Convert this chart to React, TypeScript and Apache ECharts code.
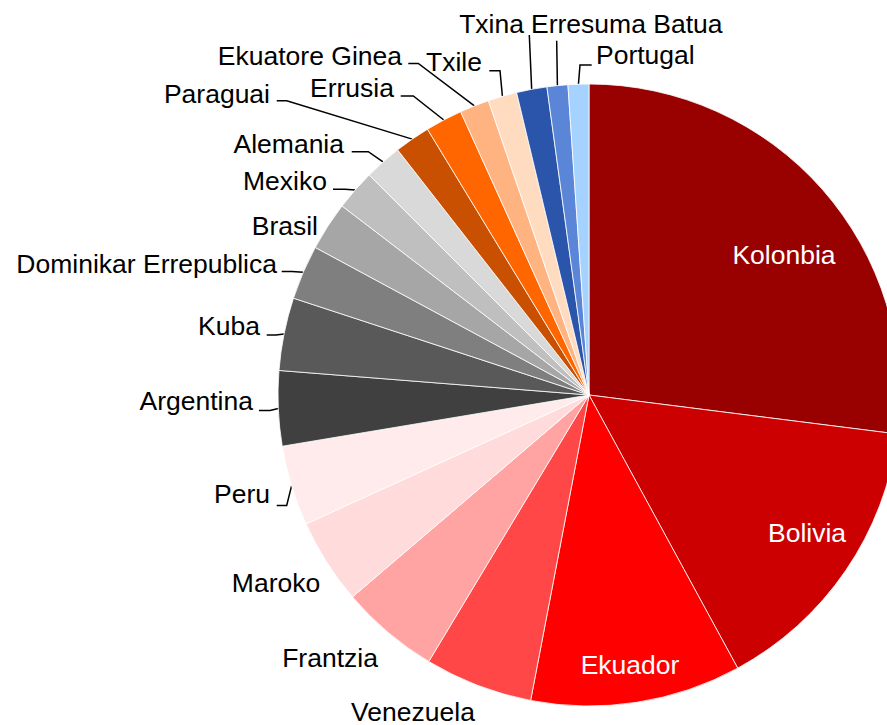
import React, { useEffect, useRef } from "react";
import * as echarts from "echarts";

// ---- data ----
const countries = [
  "Kolonbia", "Bolivia", "Ekuador", "Venezuela", "Frantzia", "Maroko", "Peru",
  "Argentina", "Kuba", "Dominikar Errepublica", "Brasil", "Mexiko", "Alemania",
  "Paraguai", "Errusia", "Ekuatore Ginea", "Txile", "Txina", "Erresuma Batua", "Portugal",
];
const shares = [
  27.0, 15.06, 10.94, 5.61, 5.14, 4.44, 4.17,
  3.89, 3.78, 2.83, 2.53, 2.11, 1.94,
  1.86, 1.92, 1.53, 1.5, 1.58, 1.08, 1.08,
];

// ---- styles ----
const colors = [
  "#990000", "#CC0000", "#FF0000", "#FF4747", "#FFA3A3", "#FFDBDB", "#FFEBEB",
  "#404040", "#595959", "#7F7F7F", "#A6A6A6", "#BFBFBF", "#D9D9D9",
  "#C85000", "#FF6600", "#FFB380", "#FFDBC0", "#2B55AA", "#5B85D6", "#A6D2FF",
];
const insideLabels = [0, 1, 2];
const noLineLabels = [3, 4, 5, 10];

// label placement (text anchor + leader line elbow/end), Excel-like manual layout
type LP = { x: number; y: number; align: string; line?: number[][] };
const labelPlacement: LP[] = [
  { x: 784, y: 255, align: "center" },
  { x: 807, y: 533, align: "center" },
  { x: 630, y: 665, align: "center" },
  { x: 413, y: 712, align: "center" },
  { x: 330, y: 658, align: "center" },
  { x: 276, y: 583, align: "center" },
  { x: 270, y: 494, align: "right", line: [[286.7, 505.5], [276.7, 505.5]] },
  { x: 253, y: 401, align: "right", line: [[270, 410.5], [259, 410.5]] },
  { x: 260, y: 326, align: "right", line: [[276, 335], [266.7, 335]] },
  { x: 277, y: 264, align: "right", line: [[292, 271.5], [281.7, 271.5]] },
  { x: 318, y: 226, align: "right" },
  { x: 327, y: 181, align: "right", line: [[345, 189.3], [333, 189.3]] },
  { x: 344, y: 144, align: "right", line: [[368.3, 151.7], [351.7, 151.7]] },
  { x: 270, y: 94, align: "right", line: [[286.7, 100.7], [276.7, 100.7]] },
  { x: 394, y: 88, align: "right", line: [[413.3, 96], [400.7, 96]] },
  { x: 402, y: 56, align: "right", line: [[418.3, 63.5], [408.3, 63.5]] },
  { x: 482, y: 62, align: "right", line: [[500, 70.7], [489.3, 70.7]] },
  { x: 524, y: 24, align: "right", line: [[529.3, 35], [529.3, 35]] },
  { x: 531, y: 24, align: "left", line: [[556.7, 40.7], [556.7, 40.7]] },
  { x: 596, y: 55, align: "left", line: [[580, 65], [591.7, 65]] },
];

export default function App() {
  const ref = useRef<HTMLDivElement>(null);
  useEffect(() => {
    if (!ref.current) return;
    const chart = echarts.init(ref.current, null, { renderer: "svg" });
    const data = countries.map((name, i) => ({
      name,
      value: shares[i],
      itemStyle: { color: colors[i] },
      label: insideLabels.includes(i)
        ? { position: "inside", color: "#ffffff" }
        : { position: "outside", color: "#000000" },
      labelLine: { show: !insideLabels.includes(i) && !noLineLabels.includes(i) },
    }));
    chart.setOption({
      animation: false,
      backgroundColor: "#ffffff",
      series: [
        {
          type: "pie",
          center: [589, 395],
          radius: 311,
          startAngle: 90,
          clockwise: true,
          avoidLabelOverlap: false,
          itemStyle: { borderColor: "#ffffff", borderWidth: 0.8 },
          label: {
            show: true,
            formatter: "{b}",
            fontFamily: "Liberation Sans, Arial, sans-serif",
            fontSize: 26.5,
          },
          labelLine: {
            show: true,
            length: 10,
            length2: 10,
            lineStyle: { color: "#000000", width: 1.5 },
          },
          emphasis: { disabled: true },
          labelLayout: (params: any) => {
            const p = labelPlacement[params.dataIndex];
            const out: any = { x: p.x, y: p.y, align: p.align, verticalAlign: "middle" };
            if (p.line && params.labelLinePoints) {
              out.labelLinePoints = [params.labelLinePoints[0], p.line[0], p.line[1]];
            }
            return out;
          },
          data,
        },
      ],
    });
    return () => chart.dispose();
  }, []);
  return (
    <div
      ref={ref}
      style={{ position: "absolute", left: 0, top: 0, width: 887, height: 725 }}
    />
  );
}
